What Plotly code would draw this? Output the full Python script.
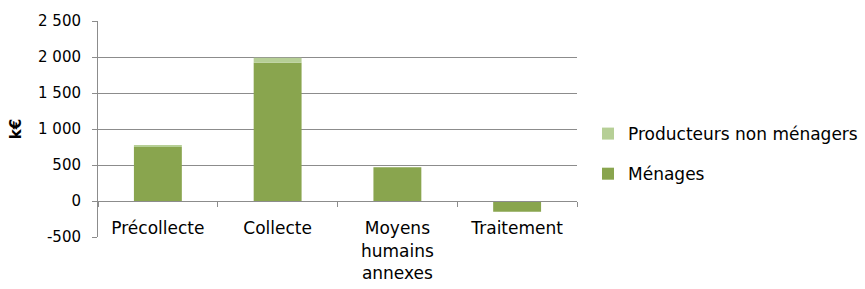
import plotly.graph_objects as go

categories = ["Précollecte", "Collecte", "Moyens<br>humains<br>annexes", "Traitement"]
menages = [750, 1920, 470, -150]
producteurs = [20, 70, 0, 0]
y_tickvals = [-500, 0, 500, 1000, 1500, 2000, 2500]
y_ticktext = ["-500", "0", "500", "1 000", "1 500", "2 000", "2 500"]

FONT = "DejaVu Sans"
C_MEN = "#89A54E"
C_PROD = "#B6CF96"
GRID = "#8C8C8C"

fig = go.Figure()
fig.add_trace(go.Bar(x=categories, y=menages, name="Ménages", marker_color=C_MEN,
                     marker_line_width=0, legendrank=2, legendgroup="m"))
fig.add_trace(go.Bar(x=categories, y=producteurs, name="Producteurs non ménagers",
                     marker_color=C_PROD, marker_line_width=0, legendrank=1, legendgroup="p"))

ymin, ymax = -500, 2500
fig.update_layout(
    width=865, height=289,
    margin=dict(l=98, r=288, t=21, b=52, autoexpand=False),
    paper_bgcolor="white", plot_bgcolor="white",
    barmode="relative", bargap=0.6,
    font=dict(family=FONT, size=15, color="#000000"),
    showlegend=True,
    legend=dict(x=1.023, y=0.56, xanchor="left", yanchor="top",
                traceorder="grouped", tracegroupgap=15,
                font=dict(family=FONT, size=17, color="#000"),
                itemwidth=30),
    xaxis=dict(
        type="category", anchor="free", position=(0 - ymin) / (ymax - ymin),
        showline=True, linecolor=GRID, linewidth=1, automargin=False,
        ticks="outside", tickson="boundaries", ticklen=5, tickcolor=GRID,
        showgrid=False, tickfont=dict(family=FONT, size=17, color="#000"),
        ticklabelstandoff=12,
    ),
    yaxis=dict(
        range=[ymin, ymax], tickvals=y_tickvals, ticktext=y_ticktext,
        showline=True, linecolor=GRID, linewidth=1, automargin=False,
        ticks="outside", ticklen=5, tickcolor=GRID,
        showgrid=True, gridcolor=GRID, gridwidth=1,
        zeroline=False, ticklabelstandoff=8,
        tickfont=dict(family=FONT, size=15, color="#000"),
        title=dict(text="<b>k€</b>", font=dict(family=FONT, size=15, color="#000"), standoff=12),
    ),
)

fig.write_html("out.html", config={"displayModeBar": False},
               post_script="document.body.style.margin='0';")
